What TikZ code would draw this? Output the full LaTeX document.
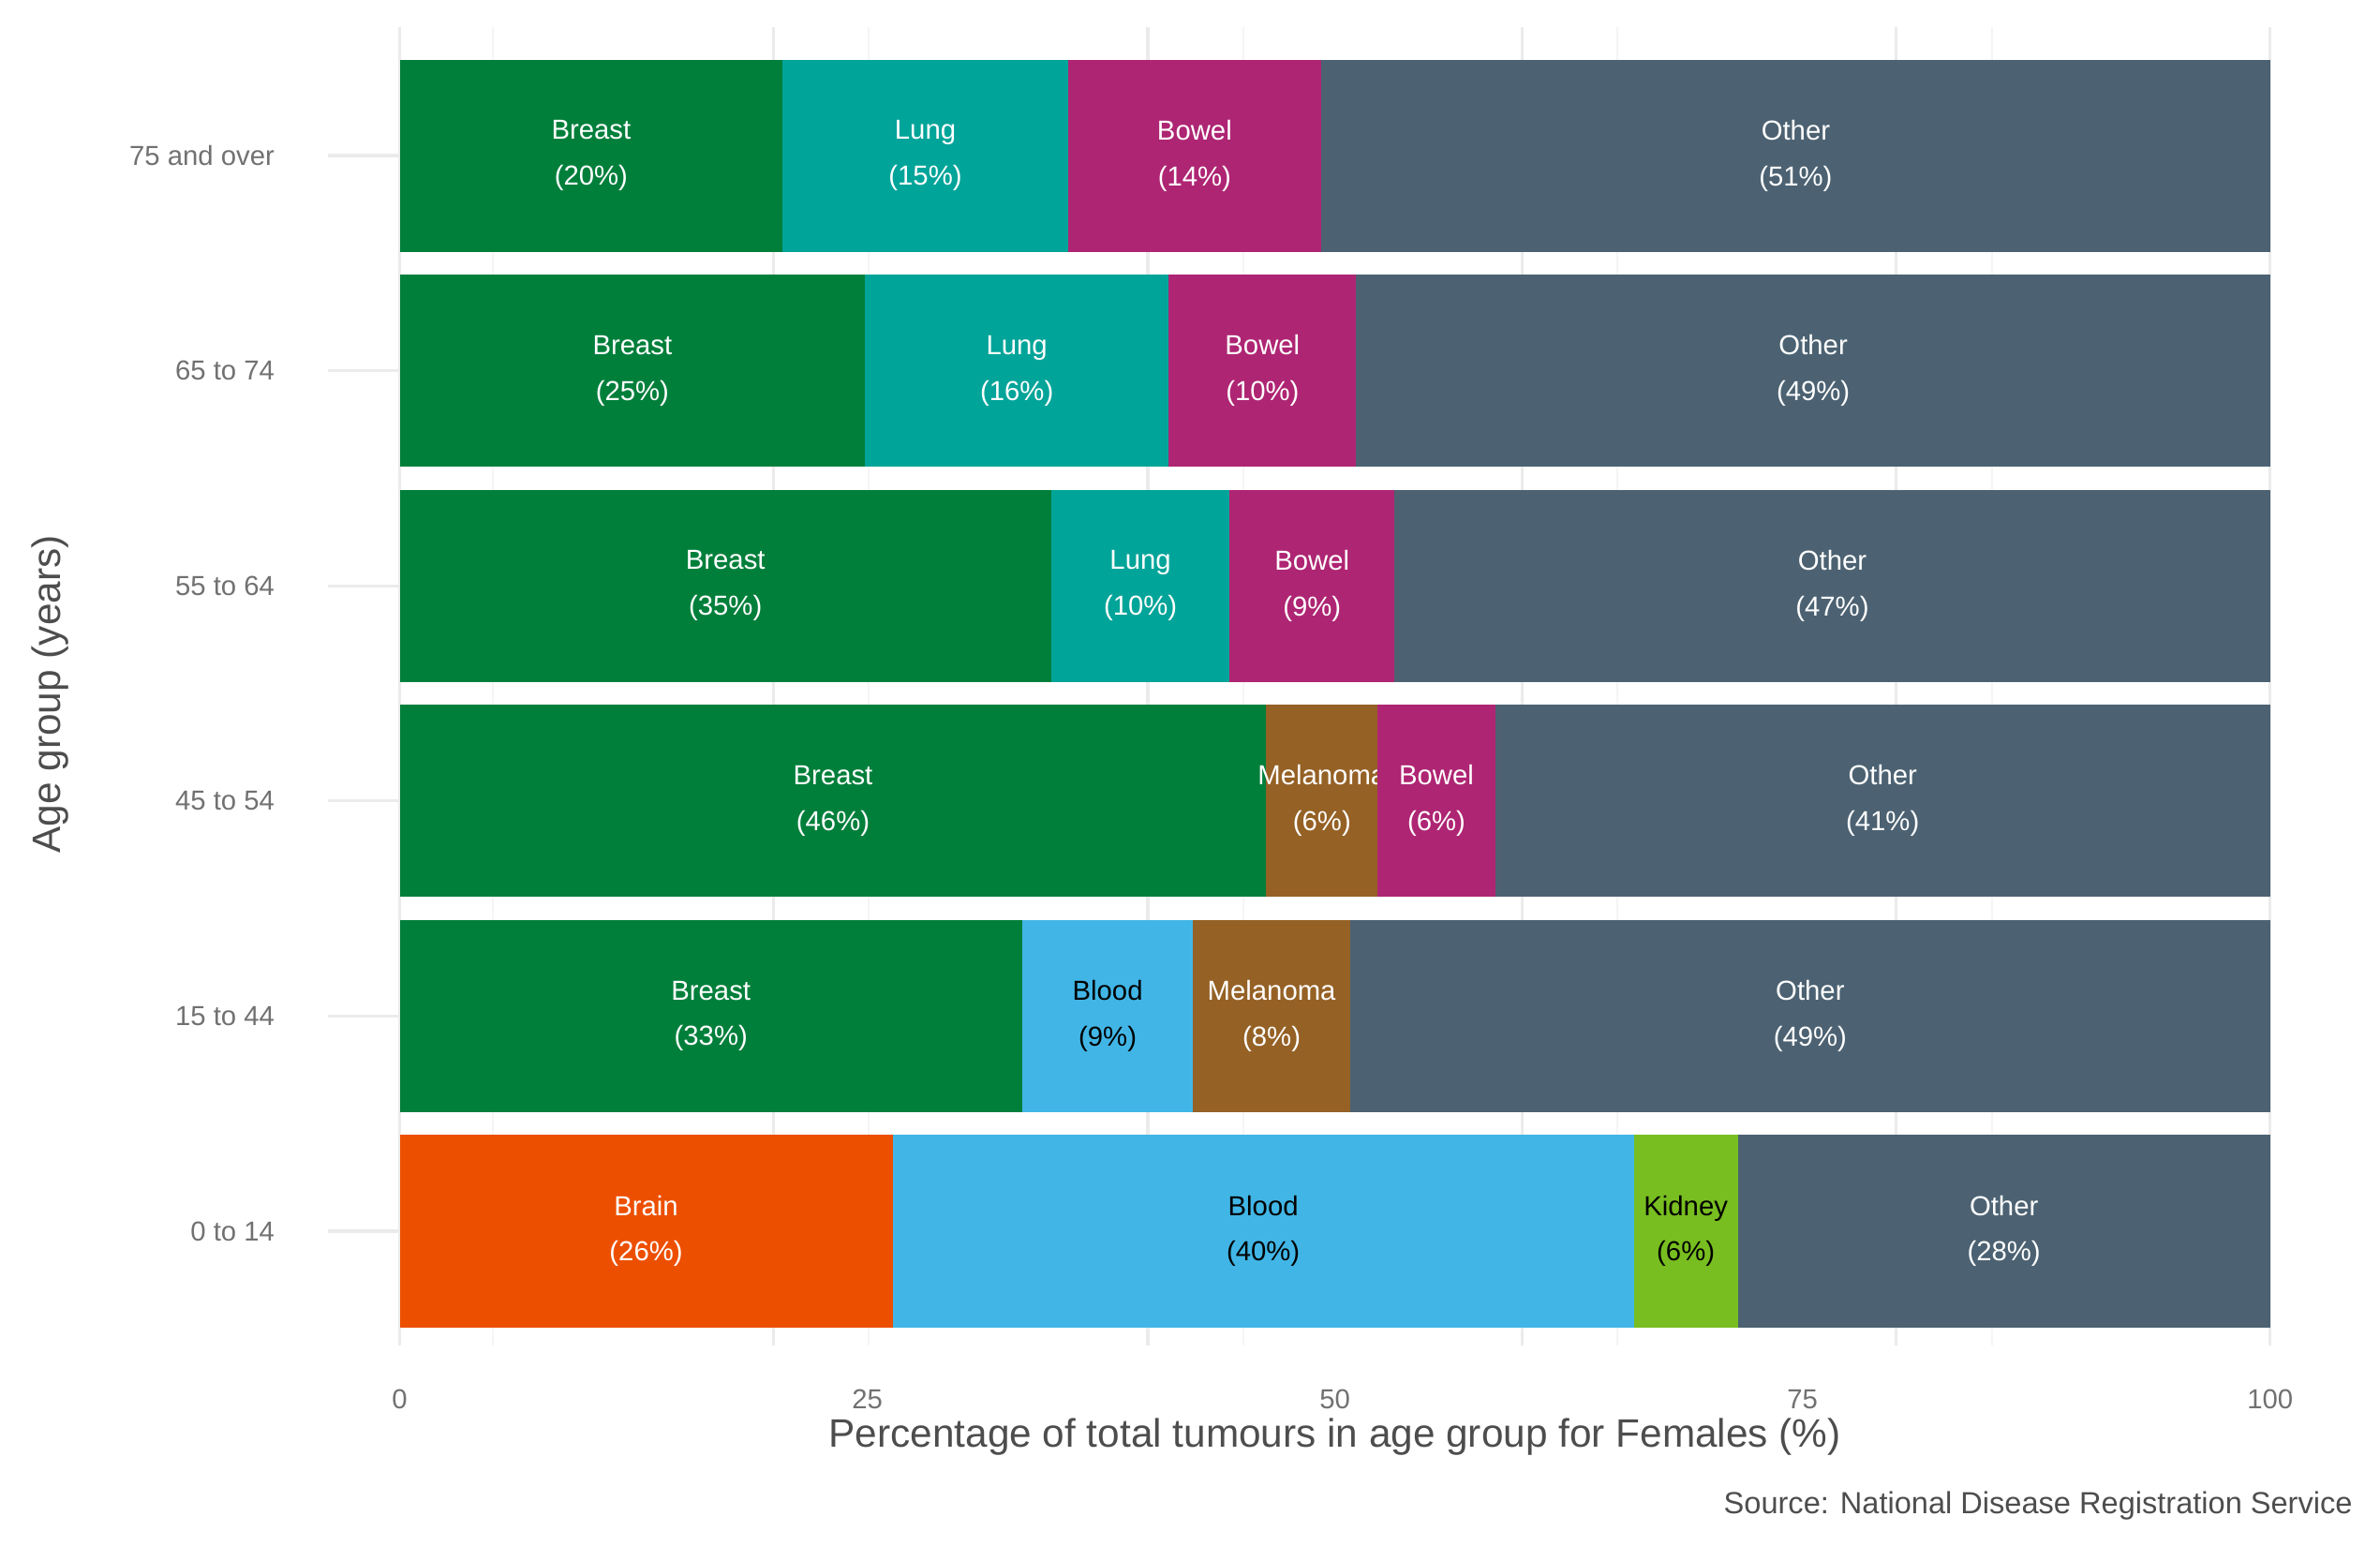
\documentclass[tikz,border=0pt]{standalone}
\usepackage{fontspec}
\setmainfont{Liberation Sans}
\usetikzlibrary{positioning}
\definecolor{breast}{HTML}{007F3B}
\definecolor{lung}{HTML}{00A499}
\definecolor{bowel}{HTML}{AE2573}
\definecolor{other}{HTML}{4C6272}
\definecolor{melanoma}{HTML}{956125}
\definecolor{blood}{HTML}{41B6E6}
\definecolor{brain}{HTML}{ED4F00}
\definecolor{kidney}{HTML}{78BE20}
\definecolor{gridmaj}{HTML}{EBEBEB}
\definecolor{gridmin}{HTML}{F5F5F5}
\definecolor{ticktext}{HTML}{4D4D4D}
\tikzset{
  seglabel/.style={font=\fontsize{9}{15}\selectfont, align=center, inner sep=0pt},
  ticklabel/.style={font=\fontsize{9}{11}\selectfont, text=ticktext!80},
  axistitle/.style={font=\fontsize{13}{15}\selectfont, text=ticktext},
}
% segment: y centre, x from, x to, colour, text colour, label
\newcommand{\barseg}[6]{%
  \fill[#4] (#2,#1-63) rectangle (#3,#1+63);
  \node[seglabel, text=#5] (lab-#2-#1) at ({(#2+#3)/2},#1) {#6};
}
\begin{document}
\begin{tikzpicture}[x=0.5pt, y=-0.5pt]
\useasboundingbox (0,0) rectangle (1560,1013);
% Grid
\foreach \gx in {323.25,569.25,814.75,1060.25,1305.75}
  \draw[gridmin, line width=0.6pt] (\gx,18) -- (\gx,882);
\foreach \gx in {262,507.2,752.4,997.6,1242.8,1488}
  \draw[gridmaj, line width=1pt] (\gx,18) -- (\gx,882);
\foreach \gy in {102,243,384,525,666,807}
  \draw[gridmaj, line width=1pt] (215,\gy) -- (1488,\gy);
% Bars
\barseg{102}{262}{513}{breast}{white}{Breast\\(20\%)}
\barseg{102}{513}{700}{lung}{white}{Lung\\(15\%)}
\barseg{102}{700}{866}{bowel}{white}{Bowel\\(14\%)}
\barseg{102}{866}{1488}{other}{white}{Other\\(51\%)}
\barseg{243}{262}{567}{breast}{white}{Breast\\(25\%)}
\barseg{243}{567}{766}{lung}{white}{Lung\\(16\%)}
\barseg{243}{766}{889}{bowel}{white}{Bowel\\(10\%)}
\barseg{243}{889}{1488}{other}{white}{Other\\(49\%)}
\barseg{384}{262}{689}{breast}{white}{Breast\\(35\%)}
\barseg{384}{689}{806}{lung}{white}{Lung\\(10\%)}
\barseg{384}{806}{914}{bowel}{white}{Bowel\\(9\%)}
\barseg{384}{914}{1488}{other}{white}{Other\\(47\%)}
\barseg{525}{262}{830}{breast}{white}{Breast\\(46\%)}
\barseg{525}{830}{903}{melanoma}{white}{Melanoma\\(6\%)}
\barseg{525}{903}{980}{bowel}{white}{Bowel\\(6\%)}
\barseg{525}{980}{1488}{other}{white}{Other\\(41\%)}
\barseg{666}{262}{670}{breast}{white}{Breast\\(33\%)}
\barseg{666}{670}{782}{blood}{black}{Blood\\(9\%)}
\barseg{666}{782}{885}{melanoma}{white}{Melanoma\\(8\%)}
\barseg{666}{885}{1488}{other}{white}{Other\\(49\%)}
\barseg{807}{262}{585}{brain}{white}{Brain\\(26\%)}
\barseg{807}{585}{1071}{blood}{black}{Blood\\(40\%)}
\barseg{807}{1071}{1139}{kidney}{black}{Kidney\\(6\%)}
\barseg{807}{1139}{1488}{other}{white}{Other\\(28\%)}
% Tick labels
\foreach \gy/\txt [count=\i] in {102/75 and over,243/65 to 74,384/55 to 64,525/45 to 54,666/15 to 44,807/0 to 14}
  \node[ticklabel, anchor=east] (ytick-\i) at (187,\gy) {\txt};
\foreach \gx/\txt [count=\i] in {262/0,568.5/25,875/50,1181.5/75,1488/100}
  \node[ticklabel, anchor=north] (xtick-\i) at (\gx,904) {\txt};
% Titles
\node[axistitle] (xtitle) at (875,942) {Percentage of total tumours in age group for Females (\%)};
\node[axistitle, rotate=90] (ytitle) at (33,455) {Age group (years)};
\node[ticklabel, text=ticktext, font=\fontsize{10}{12}\selectfont, anchor=east] (source) at (1549,987) {Source: National Disease Registration Service};
\end{tikzpicture}
\end{document}
